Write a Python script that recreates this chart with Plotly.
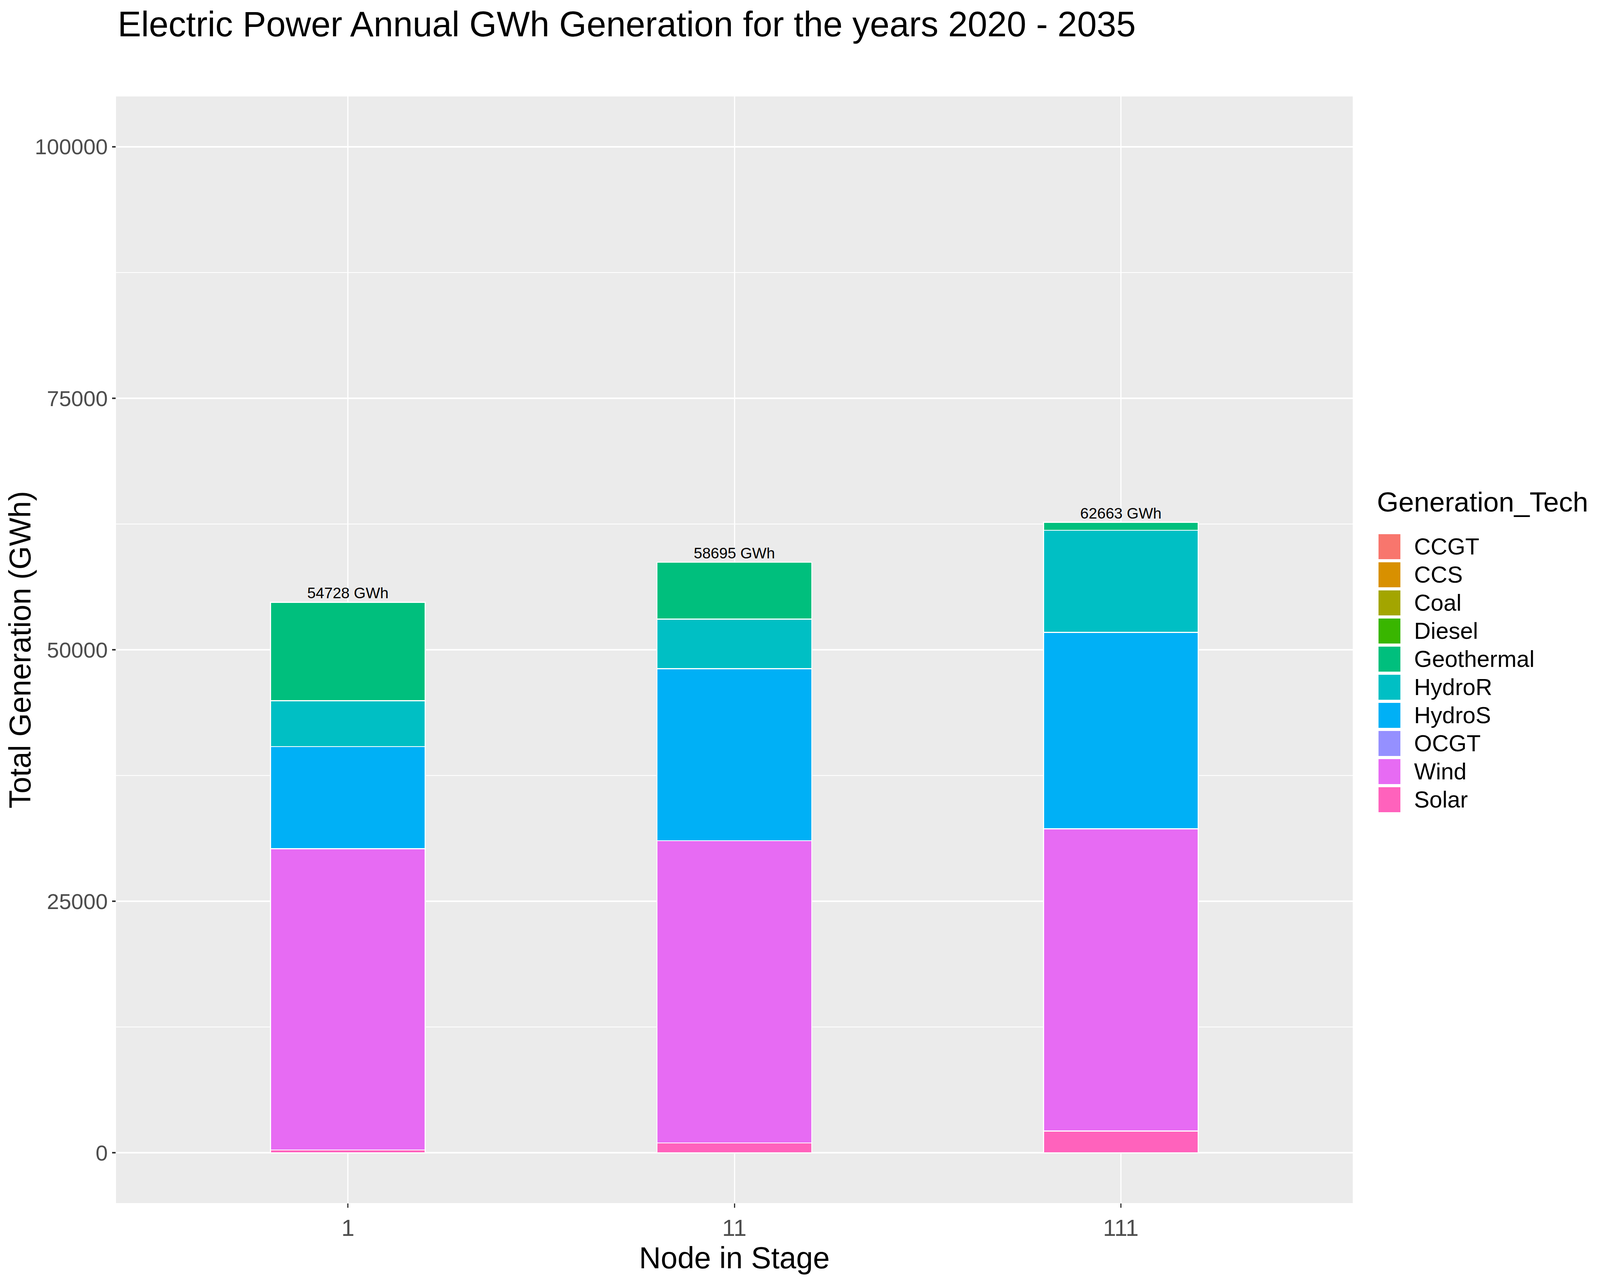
import plotly.graph_objects as go

# data (GWh)
nodes = ["1", "11", "111"]
techs = ["CCGT", "CCS", "Coal", "Diesel", "Geothermal", "HydroR", "HydroS", "OCGT", "Wind", "Solar"]
tech_colors = ["#F8766D", "#D89000", "#A3A500", "#39B600", "#00BF7D",
               "#00BFC4", "#00B0F6", "#9590FF", "#E76BF3", "#FF62BC"]

ccgt = [0, 0, 0]
ccs = [0, 0, 0]
coal = [0, 0, 0]
diesel = [0, 0, 0]
geothermal = [9798, 5642, 791]
hydro_r = [4558, 4938, 10139]
hydro_s = [10142, 17099, 19541]
ocgt = [0, 0, 0]
wind = [29950, 30036, 30026]
solar = [280, 980, 2166]

y_ticks = [0, 25000, 50000, 75000, 100000]

values = {"CCGT": ccgt, "CCS": ccs, "Coal": coal, "Diesel": diesel,
          "Geothermal": geothermal, "HydroR": hydro_r, "HydroS": hydro_s,
          "OCGT": ocgt, "Wind": wind, "Solar": solar}
color_of = dict(zip(techs, tech_colors))

FONT = "Liberation Sans, Arial, Helvetica, sans-serif"

# the browser window is 4096 css px wide (reference is 4896), same height;
# body has the default 8px margin
SX = 4096 / 4896
BODY = 8
W, H = 4096 - 2 * BODY, 3278 - 2 * BODY


def fx(x):
    # reference x pixel -> figure x pixel
    return x * SX - BODY


def fy(y):
    return y - BODY


ML = fx(355)
MR = W - fx(4139)
MT = fy(247)
MB = H - fy(3081)

fig = go.Figure()

# ggplot stacks the last factor level at the bottom
for t in reversed(techs):
    fig.add_trace(go.Bar(
        x=nodes, y=values[t], name=t, width=0.4,
        marker=dict(color=color_of[t], line=dict(color="white", width=2.7)),
        showlegend=False,
    ))

totals = [sum(values[t][i] for t in techs) for i in range(len(nodes))]
fig.add_trace(go.Scatter(
    x=nodes, y=totals, mode="text",
    text=[f"{v} GWh" for v in totals],
    textposition="top center",
    textfont=dict(family=FONT, size=39, color="black"),
    showlegend=False, hoverinfo="skip",
))

# hand-drawn legend so the keys keep ggplot's size
shapes = []
annotations = []
annotations.append(dict(
    text="Generation_Tech", xref="paper", yref="paper", x=1, y=1,
    xshift=(4211 - 4139) * SX, yshift=-(1285 - 247),
    xanchor="left", yanchor="middle", showarrow=False,
    font=dict(family=FONT, size=71, color="black"),
))
for i, t in enumerate(techs):
    cy = -(1400 + 72 * i - 247)
    shapes.append(dict(
        type="rect", xref="paper", yref="paper", xsizemode="pixel", ysizemode="pixel",
        xanchor=1, yanchor=1, x0=62, x1=126, y0=cy - 36, y1=cy + 36,
        fillcolor="#F2F2F2", line=dict(width=0), layer="above",
    ))
    shapes.append(dict(
        type="rect", xref="paper", yref="paper", xsizemode="pixel", ysizemode="pixel",
        xanchor=1, yanchor=1, x0=64, x1=124, y0=cy - 34, y1=cy + 34,
        fillcolor=color_of[t], line=dict(color="white", width=4), layer="above",
    ))
    annotations.append(dict(
        text=t, xref="paper", yref="paper", x=1, y=1,
        xshift=(4324 - 4139) * SX, yshift=cy,
        xanchor="left", yanchor="middle", showarrow=False,
        font=dict(family=FONT, size=59, color="black"),
    ))

fig.update_layout(
    width=W, height=H,
    margin=dict(l=ML, r=MR, t=MT, b=MB, pad=0),
    paper_bgcolor="white", plot_bgcolor="#EBEBEB",
    barmode="stack",
    showlegend=False,
    font=dict(family=FONT, color="black"),
    title=dict(
        text="Electric Power Annual GWh Generation for the years 2020 - 2035",
        font=dict(family=FONT, size=90, color="black"),
        xref="container", x=fx(360) / W, xanchor="left",
        yref="container", y=1 - fy(61) / H, yanchor="middle",
    ),
    xaxis=dict(
        type="category", range=[-0.6, 2.6],
        title=dict(text="Node in Stage", font=dict(family=FONT, size=77, color="black"), standoff=4),
        tickfont=dict(family=FONT, size=60, color="#4D4D4D"),
        ticks="outside", ticklen=11, tickwidth=3, tickcolor="#333333",
        showgrid=True, gridcolor="white", gridwidth=3.3,
        zeroline=False, showline=False, automargin=False,
    ),
    yaxis=dict(
        range=[-5000, 105000], tickvals=y_ticks, tickformat="d",
        title=dict(text="Total Generation (GWh)", font=dict(family=FONT, size=77, color="black"), standoff=3),
        tickfont=dict(family=FONT, size=56, color="#4D4D4D"),
        ticks="outside", ticklen=9, tickwidth=4, tickcolor="#333333",
        showgrid=True, gridcolor="white", gridwidth=4,
        minor=dict(dtick=12500, tick0=0, showgrid=True, gridcolor="white", gridwidth=2, ticks=""),
        zeroline=False, showline=False, automargin=False,
    ),
    shapes=shapes,
    annotations=annotations,
)

fig.write_html("out.html")
